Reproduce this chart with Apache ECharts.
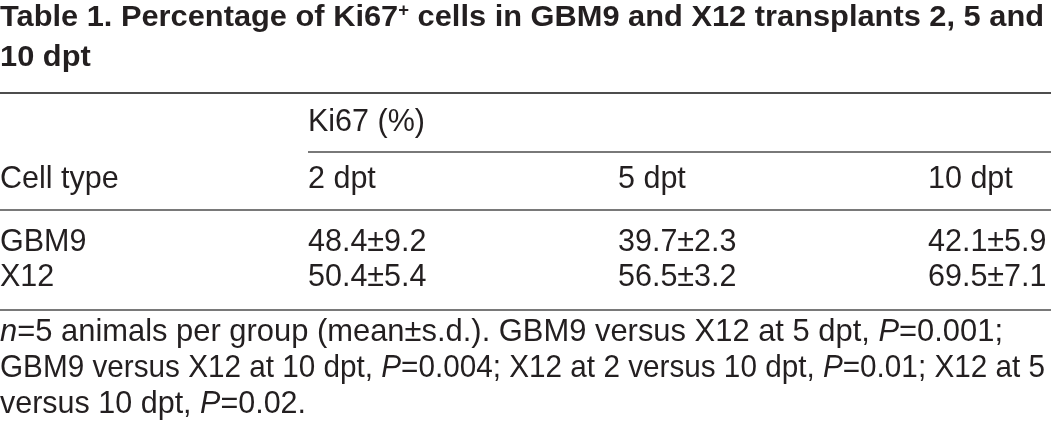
<!DOCTYPE html>
<html><head><meta charset="utf-8">
<script src="https://cdn.jsdelivr.net/npm/echarts@6/dist/echarts.min.js"></script>
<style>html,body{margin:0;padding:0;background:#fff}#c{width:1051px;height:430px}</style>
</head><body><div id="c"></div>
<script>
// ---- data ----
const titleLine1 = 'Table 1. Percentage of Ki67{sup|+} cells in GBM9 and X12 transplants 2, 5 and';
const titleLine2 = '10 dpt';
const groupHeader = 'Ki67 (%)';
const rowHeader = 'Cell type';
const timepoints = ['2 dpt', '5 dpt', '10 dpt'];
const cellTypes = ['GBM9', 'X12'];
const gbm9Mean = [48.4, 39.7, 42.1];
const gbm9SD = [9.2, 2.3, 5.9];
const x12Mean = [50.4, 56.5, 69.5];
const x12SD = [5.4, 3.2, 7.1];
const footnoteLines = [
  '{i|n}=5 animals per group (mean±s.d.). GBM9 versus X12 at 5 dpt, {i|P}=0.001;',
  'GBM9 versus X12 at 10 dpt, {i|P}=0.004; X12 at 2 versus 10 dpt, {i|P}=0.01; X12 at 5',
  'versus 10 dpt, {i|P}=0.02.'
];

// ---- layout / style ----
const FONT = "'Liberation Sans', Arial, sans-serif";
const TXT = '#231f20';
const RULE = '#4d4d4d';
const FS = 30.5;
const colX = [308, 618, 928];
const rowY = { title1: 18, title2: 58, ruleTop: 93, group: 123, ruleGroup: 152, head: 180, ruleHead: 210, rows: [243, 278], ruleBottom: 310, foot: [333, 369, 405] };
const footWidth = [1003, 1045, null];

const means = [gbm9Mean, x12Mean];
const sds = [gbm9SD, x12SD];

// text measuring (for fitting line widths)
const cv = document.createElement('canvas').getContext('2d');
function w(text, font) { cv.font = font; return cv.measureText(text).width; }
function richWidth(str, baseFont, fonts) {
  let total = 0, last = 0, m;
  const re = /\{(\w+)\|([^}]*)\}/g;
  while ((m = re.exec(str))) {
    total += w(str.slice(last, m.index), baseFont) + w(m[2], fonts[m[1]]);
    last = re.lastIndex;
  }
  return total + w(str.slice(last), baseFont);
}

const g = [];
function text(x, y, t, opts) {
  g.push(Object.assign({
    type: 'text', x: x, y: y,
    style: Object.assign({ text: t, font: FS + 'px ' + FONT, fill: TXT, verticalAlign: 'middle', align: 'left' }, (opts && opts.style) || {})
  }, (opts && opts.el) || {}));
}
function line(x1, y1, x2, y2, lw) {
  g.push({ type: 'line', shape: { x1: x1, y1: y1, x2: x2, y2: y2 }, style: { stroke: RULE, lineWidth: lw } });
}

const tFont = 'bold 30px ' + FONT;
const supFont = 'bold 18px ' + FONT;
const tScale = 1044 / richWidth(titleLine1, tFont, { sup: supFont });
const titleRich = { sup: { font: supFont, fill: TXT, verticalAlign: 'top', padding: [0, 0, 14, 0] } };
text(0, rowY.title1, titleLine1, { style: { font: tFont, rich: titleRich }, el: { scaleX: tScale } });
text(0, rowY.title2, titleLine2, { style: { font: tFont }, el: { scaleX: tScale } });

line(0, rowY.ruleTop, 1051, rowY.ruleTop, 2);
text(colX[0], rowY.group, groupHeader);
line(colX[0], rowY.ruleGroup, 1051, rowY.ruleGroup, 1.5);
text(0, rowY.head, rowHeader);
timepoints.forEach((t, j) => text(colX[j], rowY.head, t));
line(0, rowY.ruleHead, 1051, rowY.ruleHead, 1.5);
cellTypes.forEach((c, i) => {
  text(0, rowY.rows[i], c);
  means[i].forEach((m, j) => text(colX[j], rowY.rows[i], m.toFixed(1) + '±' + sds[i][j].toFixed(1)));
});
line(0, rowY.ruleBottom, 1051, rowY.ruleBottom, 1.5);

const baseFont = FS + 'px ' + FONT;
const itFont = 'italic ' + FS + 'px ' + FONT;
const footRich = { i: { font: itFont, fill: TXT } };
footnoteLines.forEach((l, k) => {
  const s = footWidth[k] ? footWidth[k] / richWidth(l, baseFont, { i: itFont }) : 1;
  text(0, rowY.foot[k], l, { style: { rich: footRich }, el: { scaleX: s } });
});

const chart = echarts.init(document.getElementById('c'), null, { renderer: 'canvas' });
chart.setOption({ animation: false, backgroundColor: '#ffffff', graphic: { elements: g } });
</script>
</body></html>
